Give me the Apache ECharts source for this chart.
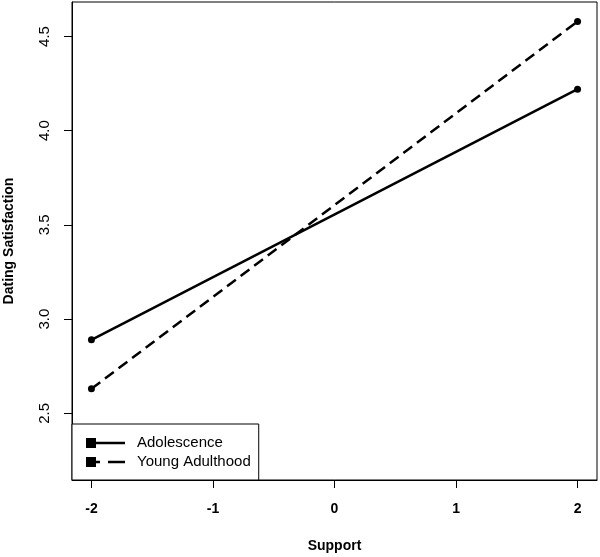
<!DOCTYPE html>
<html>
<head>
<meta charset="utf-8">
<script src="https://cdn.jsdelivr.net/npm/echarts@6/dist/echarts.min.js"></script>
<style>
  html, body { margin: 0; padding: 0; background: #fff; }
  #chart { width: 600px; height: 557px; }
</style>
</head>
<body>
<div id="chart"></div>
<script>
// support levels (x) and predicted dating satisfaction per group
const supportLevels = [-2, 2];
const adolescence = [2.89, 4.22];
const youngAdulthood = [2.63, 4.58];
const xTicks = [-2, -1, 0, 1, 2];
const yTicks = [2.5, 3.0, 3.5, 4.0, 4.5];
const seriesNames = ["Adolescence", "Young Adulthood"];

const font = "Liberation Sans, Arial, sans-serif";

// legend icons: filled square followed by a solid or dashed segment
const solidIcon = "path://M0,0H10V3.75H39V6.25H10V10H0Z";
const dashedIcon = "path://M0,0H10V3.75H14V6.25H10V10H0ZM22,3.75H39V6.25H22Z";

const toPairs = (xs, ys) => xs.map((x, i) => [x, ys[i]]);

const chart = echarts.init(document.getElementById("chart"));

const option = {
    backgroundColor: "#fff",
    animation: false,
    grid: {
        left: 72, right: 3, top: 2, bottom: 77,
        containLabel: false,
        outerBoundsMode: "none",
        show: true, borderColor: "#000", borderWidth: 1
    },
    xAxis: {
        type: "value",
        min: -2.16, max: 2.16,
        name: "Support",
        nameLocation: "middle",
        nameGap: 59,
        nameTextStyle: { fontFamily: font, fontSize: 14, fontWeight: "bold", color: "#000" },
        axisLine: { show: true, onZero: false, lineStyle: { color: "#000" } },
        axisTick: { show: true, length: 8, customValues: xTicks, lineStyle: { color: "#000" } },
        axisLabel: {
            customValues: xTicks, margin: 22,
            fontFamily: font, fontSize: 14, fontWeight: "bold", color: "#000"
        },
        splitLine: { show: false }
    },
    yAxis: {
        type: "value",
        min: 2.146, max: 4.683,
        name: "Dating Satisfaction",
        nameLocation: "middle",
        nameGap: 56,
        nameTextStyle: { fontFamily: font, fontSize: 14, fontWeight: "bold", color: "#000" },
        axisLine: { show: true, onZero: false, lineStyle: { color: "#000" } },
        axisTick: { show: true, length: 8, customValues: yTicks, lineStyle: { color: "#000" } },
        axisLabel: {
            customValues: yTicks, margin: 20, rotate: 90,
            formatter: (v) => v.toFixed(1),
            fontFamily: font, fontSize: 15, color: "#000"
        },
        splitLine: { show: false }
    },
    legend: {
        orient: "vertical",
        left: 72, top: 424,
        padding: [10, 8, 9, 14],
        itemGap: 1,
        itemWidth: 39, itemHeight: 10,
        borderColor: "#000", borderWidth: 1,
        backgroundColor: "#fff",
        selectedMode: false,
        textStyle: { fontFamily: font, fontSize: 15, color: "#000", lineHeight: 18, padding: [0, 0, 0, 7] },
        data: [
            { name: seriesNames[0], icon: solidIcon, itemStyle: { color: "#000" } },
            { name: seriesNames[1], icon: dashedIcon, itemStyle: { color: "#000" } }
        ]
    },
    series: [
        {
            name: seriesNames[0],
            type: "line",
            data: toPairs(supportLevels, adolescence),
            symbol: "circle", symbolSize: 7,
            itemStyle: { color: "#000" },
            lineStyle: { color: "#000", width: 2.5, type: "solid" }
        },
        {
            name: seriesNames[1],
            type: "line",
            data: toPairs(supportLevels, youngAdulthood),
            symbol: "circle", symbolSize: 7,
            itemStyle: { color: "#000" },
            lineStyle: { color: "#000", width: 2.5, type: [11, 6] }
        }
    ]
};

chart.setOption(option);
</script>
</body>
</html>
